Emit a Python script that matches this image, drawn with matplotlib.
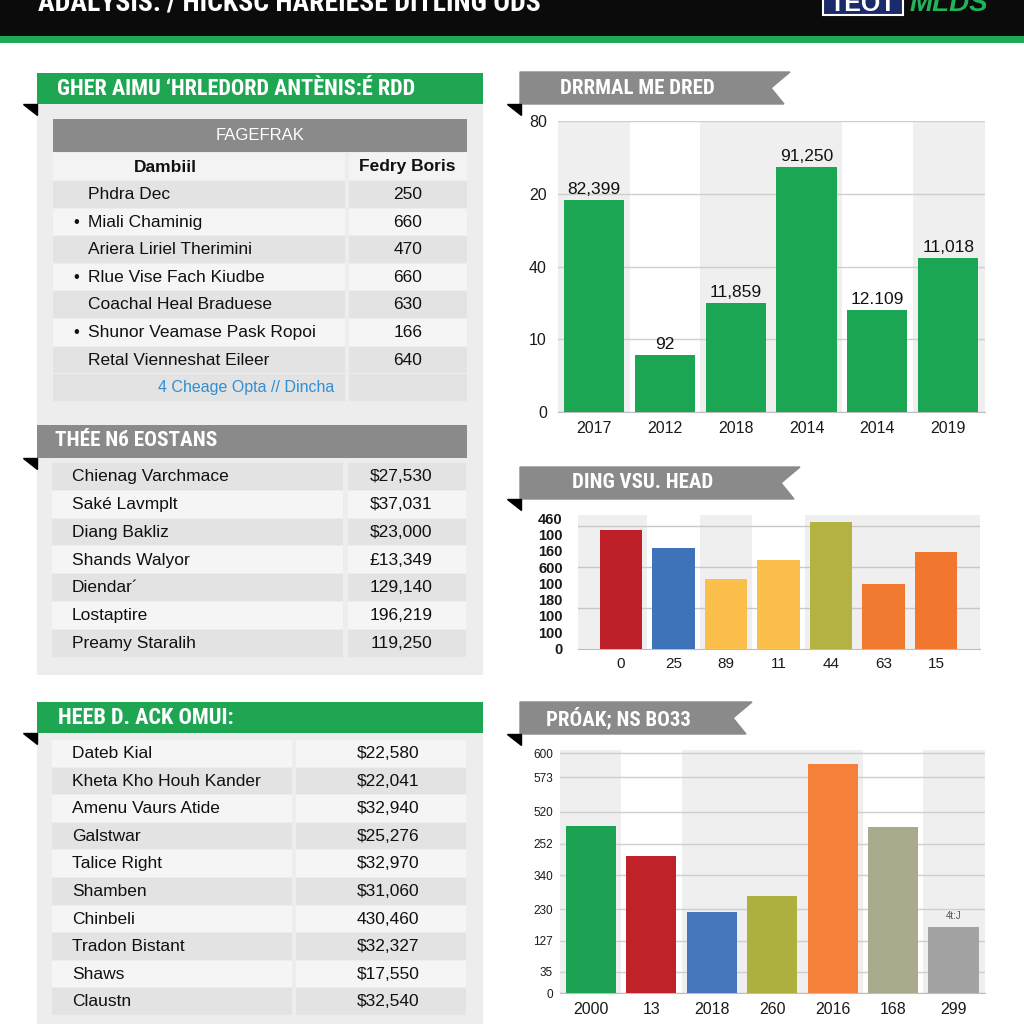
import matplotlib.pyplot as plt
from matplotlib import font_manager
from matplotlib.patches import Rectangle, Polygon

plt.rcParams['font.family'] = ['Liberation Sans', 'DejaVu Sans']


def installed(name):
    try:
        font_manager.findfont(name, fallback_to_default=False)
        return True
    except ValueError:
        return False


NARROW = [f for f in ['Roboto Condensed', 'Open Sans Condensed', 'Liberation Sans Narrow'] if installed(f)]
NARROW += ['Liberation Sans', 'DejaVu Sans']

GREEN = '#1ea653'
GRAY_BAR = '#8a8a8a'
DARK_ROW = '#e3e3e3'
LIGHT_ROW = '#f5f5f5'

# ---- data ----
header_title = 'ADALYSIS: / HICKSC HAREIESE DITLING ODS'

p1_title = 'GHER AIMU \u2018HRLEDORD ANT\u00c8NIS:\u00c9 RDD'
p1_sub = 'FAGEFRAK'
p1_cols = ['Dambiil', 'Fedry Boris']
p1_names = ['Phdra Dec', 'Miali Chaminig', 'Ariera Liriel Therimini', 'Rlue Vise Fach Kiudbe',
            'Coachal Heal Braduese', 'Shunor Veamase Pask Ropoi', 'Retal Vienneshat Eileer']
p1_values = [250, 660, 470, 660, 630, 166, 640]
p1_bullets = [False, True, False, True, False, True, False]
p1_link = '4 Cheage Opta // Dincha'

p2_title = 'TH\u00c9E N\u0431 EOSTANS'
p2_names = ['Chienag Varchmace', 'Sak\u00e9 Lavmplt', 'Diang Bakliz', 'Shands Walyor',
            'Diendar\u00b4', 'Lostaptire', 'Preamy Staralih']
p2_values = ['$27,530', '$37,031', '$23,000', '\u00a313,349', '129,140', '196,219', '119,250']

p3_title = 'HEEB D. ACK OMUI:'
p3_names = ['Dateb Kial', 'Kheta Kho Houh Kander', 'Amenu Vaurs Atide', 'Galstwar', 'Talice Right',
            'Shamben', 'Chinbeli', 'Tradon Bistant', 'Shaws', 'Claustn']
p3_values = ['$22,580', '$22,041', '$32,940', '$25,276', '$32,970', '$31,060', '430,460',
             '$32,327', '$17,550', '$32,540']

c1_title = 'DRRMAL ME DRED'
c1_years = ['2017', '2012', '2018', '2014', '2014', '2019']
c1_heights = [2.91, 0.79, 1.50, 3.37, 1.40, 2.12]
c1_labels = ['82,399', '92', '11,859', '91,250', '12.109', '11,018']
c1_yticks = ['0', '10', '40', '20', '80']

c2_title = 'DING VSU. HEAD'
c2_cats = ['0', '25', '89', '11', '44', '63', '15']
c2_heights = [7.26, 6.19, 4.25, 5.43, 7.75, 3.96, 5.95]
c2_colors = ['#be2029', '#3f73b9', '#fcbf4b', '#fcbf4b', '#b3b343', '#f07a30', '#f2772e']
c2_yticks = ['0', '100', '100', '180', '100', '600', '160', '100', '460']

c3_title = 'PR\u00d3AK; NS BO33'
c3_cats = ['2000', '13', '2018', '260', '2016', '168', '299']
c3_heights = [167.6, 137.6, 81.6, 97.6, 229.3, 166.6, 66.0]
c3_colors = ['#1ba353', '#bf2229', '#4476b9', '#adb03e', '#f5803a', '#a9ab8c', '#a3a3a3']
c3_tick_pos = [0, 21.6, 52.6, 84.0, 118.3, 149.3, 181.6, 216.0, 240.0]
c3_tick_labels = ['0', '35', '127', '230', '340', '252', '520', '573', '600']
c3_note = '4t:J'

fig = plt.figure(figsize=(10.24, 10.24), dpi=100)
renderer = fig.canvas.get_renderer()
bg = fig.add_axes([0, 0, 1, 1])
bg.set_xlim(0, 1024)
bg.set_ylim(1024, 0)
bg.axis('off')


def px_axes(x0, y0, x1, y1):
    return fig.add_axes([x0 / 1024, 1 - y1 / 1024, (x1 - x0) / 1024, (y1 - y0) / 1024])


def rect(x, y, w, h, c):
    bg.add_patch(Rectangle((x, y), w, h, facecolor=c, edgecolor='none'))


def fold(x, y):
    bg.add_patch(Polygon([(x, y), (x + 14, y), (x + 14, y + 11)], closed=True, color='black'))


def fit_title(x, y, s, width, size, va='center', **kw):
    # shrink the font until the title spans about the same width as in the picture
    t = bg.text(x, y, s, color='white', fontsize=size, fontweight='bold', family=NARROW, va=va, **kw)
    w = t.get_window_extent(renderer).width
    if w > width:
        t.set_fontsize(size * width / w)
    return t


# header
rect(0, 0, 1024, 36, '#0b0b0b')
rect(0, 36, 1024, 7, '#1fa855')
fit_title(38, 10, header_title, 509, 20, va='baseline')
bg.add_patch(Rectangle((823, -6), 80, 21, facecolor='#1b2a6b', edgecolor='white', lw=1.5))
bg.text(863, 11, 'TEOT', color='white', fontsize=18, fontweight='bold', ha='center', va='baseline')
bg.text(910, 11, 'MLDS', color='#21b35a', fontsize=20, fontweight='bold', style='italic', va='baseline')

# left panels background
rect(37, 73, 446, 602, '#ededed')
rect(37, 702, 446, 330, '#ededed')

# panel 1
rect(37, 73, 446, 31, GREEN)
fold(23, 104)
fit_title(57, 89, p1_title, 390, 16)
rect(53, 119, 414, 33, GRAY_BAR)
bg.text(260, 135, p1_sub, color='white', fontsize=12, ha='center', va='center')
rect(53, 153, 292, 27, '#f3f3f3')
rect(349, 153, 118, 27, '#f3f3f3')
bg.text(165, 167, p1_cols[0], fontsize=12.5, fontweight='bold', ha='center', va='center', color='#111')
bg.text(407, 167, p1_cols[1], fontsize=12.5, fontweight='bold', ha='center', va='center', color='#111')
for i, (name, val, bul) in enumerate(zip(p1_names, p1_values, p1_bullets)):
    y0 = 181 + i * 27.6
    c = DARK_ROW if i % 2 == 0 else LIGHT_ROW
    rect(53, y0, 292, 26.5, c)
    rect(349, y0, 118, 26.5, c)
    yc = y0 + 13.5
    if bul:
        bg.text(76, yc, '\u2022', fontsize=12, ha='center', va='center', color='#111')
    bg.text(88, yc, name, fontsize=12.5, va='center', color='#111')
    bg.text(408, yc, str(val), fontsize=12.5, ha='center', va='center', color='#111')
y0 = 181 + 7 * 27.6
rect(53, y0, 292, 26.5, DARK_ROW)
rect(349, y0, 118, 26.5, DARK_ROW)
bg.text(246, y0 + 13.5, p1_link, fontsize=11.5, ha='center', va='center', color='#2f8fd6')

# panel 2
rect(37, 425, 430, 33, GRAY_BAR)
fold(23, 458)
fit_title(55, 441, p2_title, 163, 16)
for i, (name, val) in enumerate(zip(p2_names, p2_values)):
    y0 = 463 + i * 27.8
    c = DARK_ROW if i % 2 == 0 else LIGHT_ROW
    rect(52, y0, 291, 26.8, c)
    rect(348, y0, 118, 26.8, c)
    bg.text(72, y0 + 13.8, name, fontsize=12.5, va='center', color='#111')
    bg.text(401, y0 + 13.8, val, fontsize=12.5, ha='center', va='center', color='#111')

# panel 3
rect(37, 702, 446, 31, GREEN)
fold(23, 733)
fit_title(58, 718, p3_title, 182, 16)
for i, (name, val) in enumerate(zip(p3_names, p3_values)):
    y0 = 740 + i * 27.6
    c = LIGHT_ROW if i % 2 == 0 else DARK_ROW
    rect(52, y0, 240, 26.5, c)
    rect(296, y0, 170, 26.5, c)
    bg.text(72, y0 + 13.5, name, fontsize=12.5, va='center', color='#111')
    bg.text(388, y0 + 13.5, val, fontsize=12.5, ha='center', va='center', color='#111')


# ribbons on the right
def ribbon(y, x_end, title, tx, width):
    bg.add_patch(Polygon([(520, y), (x_end, y), (x_end - 19, y + 16), (x_end - 6, y + 32), (520, y + 32)],
                         closed=True, color=GRAY_BAR))
    fold(507, y + 32)
    fit_title(tx, y + 16, title, width, 15)


ribbon(72, 790, c1_title, 560, 173)
ribbon(467, 800, c2_title, 572, 150)
ribbon(702, 752, c3_title, 546, 158)


def style(ax, bands, xlim):
    n = len(bands)
    for i, b in enumerate(bands):
        if b:
            lo = xlim[0] if i == 0 else i - 0.5
            hi = xlim[1] if i == n - 1 else i + 0.5
            ax.axvspan(lo, hi, color='#efefef', zorder=0, lw=0)
    ax.set_xlim(*xlim)
    for s in ['top', 'right', 'left']:
        ax.spines[s].set_visible(False)
    ax.spines['bottom'].set_color('#bdbdbd')
    ax.tick_params(length=0, colors='#1a1a1a')
    ax.set_facecolor('white')


# chart 1
ax1 = px_axes(558, 121, 985, 412.3)
style(ax1, [1, 0, 1, 1, 0, 1], (-0.51, 5.52))
x1 = range(len(c1_years))
ax1.bar(x1, c1_heights, width=0.85, color='#1ba653', zorder=3)
for i, (h, lab) in enumerate(zip(c1_heights, c1_labels)):
    ax1.text(i, h + 0.04, lab, ha='center', va='bottom', fontsize=12.5, color='#111')
ax1.set_ylim(0, 4.0)
ax1.set_xticks(list(x1))
ax1.set_xticklabels(c1_years, fontsize=11.5)
ax1.set_yticks(range(len(c1_yticks)))
ax1.set_yticklabels(c1_yticks, fontsize=11.5)
ax1.tick_params(axis='y', pad=8)
ax1.tick_params(axis='x', pad=6)
ax1.yaxis.grid(True, color='#cfcfcf', lw=1, zorder=1)
ax1.set_axisbelow(True)

# chart 2
ax2 = px_axes(578, 515, 980, 648.5)
style(ax2, [1, 0, 1, 0, 1, 1, 1], (-0.82, 6.84))
x2 = range(len(c2_cats))
ax2.bar(x2, c2_heights, width=0.81, color=c2_colors, zorder=3)
for g in [2.5, 5, 7.5]:
    ax2.axhline(g, color='#c8c8c8', lw=1, zorder=1)
ax2.set_ylim(0, 8.2)
ax2.set_xticks(list(x2))
ax2.set_xticklabels(c2_cats, fontsize=11)
ax2.set_yticks(range(len(c2_yticks)))
ax2.set_yticklabels(c2_yticks, fontsize=10.5, fontweight='bold')
ax2.tick_params(axis='y', pad=11)
ax2.tick_params(axis='x', pad=6)

# chart 3
ax3 = px_axes(560, 750, 985, 993.3)
style(ax3, [1, 0, 1, 1, 1, 0, 1], (-0.51, 6.52))
x3 = range(len(c3_cats))
ax3.bar(x3, c3_heights, width=0.83, color=c3_colors, zorder=3)
ax3.text(6, c3_heights[6] + 6, c3_note, ha='center', va='bottom', fontsize=7, color='#555')
ax3.set_ylim(0, 243.3)
ax3.set_xticks(list(x3))
ax3.set_xticklabels(c3_cats, fontsize=11.5)
ax3.set_yticks(c3_tick_pos)
ax3.set_yticklabels(c3_tick_labels, fontsize=8.5)
ax3.tick_params(axis='y', pad=5)
ax3.tick_params(axis='x', pad=6)
ax3.yaxis.grid(True, color='#cfcfcf', lw=1, zorder=1)
ax3.set_axisbelow(True)

fig.savefig('out.png', dpi=100)
